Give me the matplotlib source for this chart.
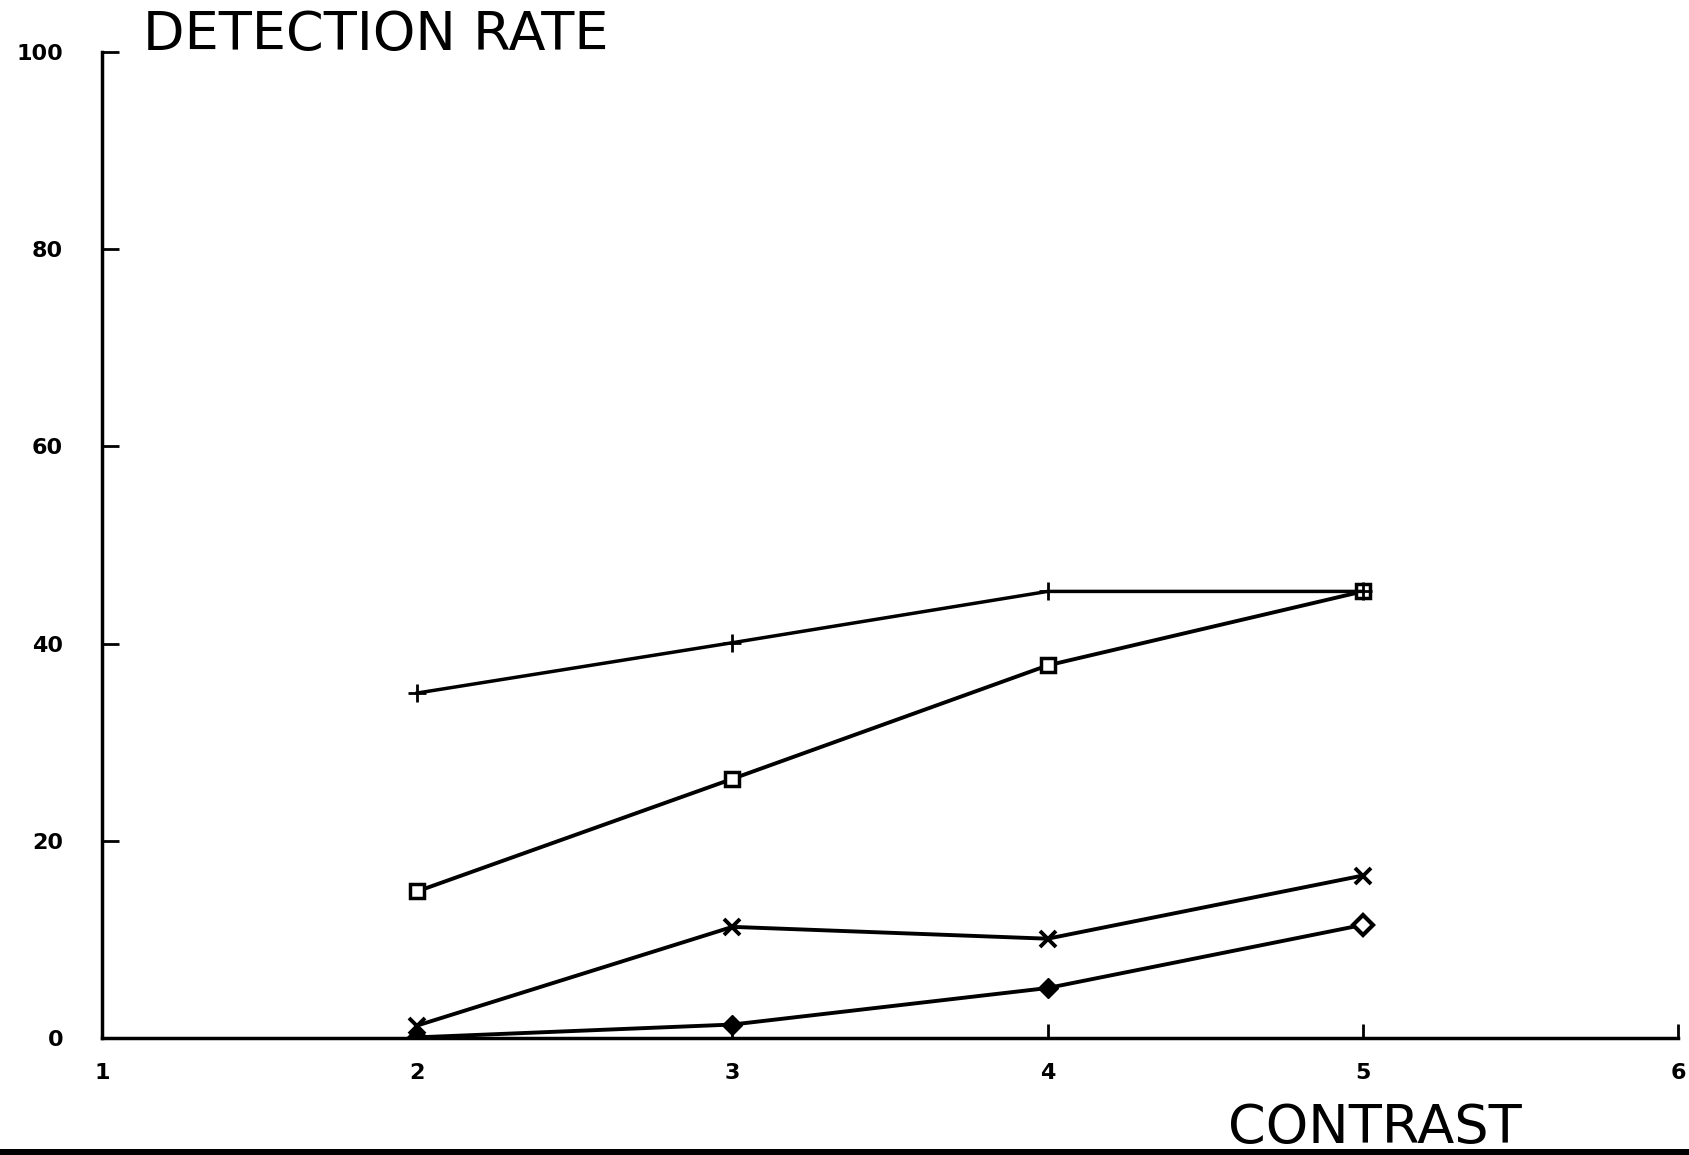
import matplotlib
matplotlib.use("Agg")
import matplotlib.pyplot as plt
from matplotlib.patches import Rectangle

# detection rate (%) against contrast level, four detector runs
contrast = [2, 3, 4, 5]
rate_plus = [35.0, 40.1, 45.3, 45.3]
rate_square = [14.9, 26.3, 37.8, 45.3]
rate_cross = [1.3, 11.3, 10.1, 16.5]
rate_diamond = [0.1, 1.4, 5.1, 11.5]

x_ticks = [1, 2, 3, 4, 5, 6]
y_ticks = [0, 20, 40, 60, 80, 100]

line_width = 2.8
title_size = 39
tick_size = 16

fig = plt.figure(figsize=(16.89, 11.55), dpi=100)
ax = fig.add_axes([0.0604, 0.1010, 0.9331, 0.8542])

ax.plot(contrast, rate_square, color="black", linewidth=line_width,
        marker="s", markersize=10, markerfacecolor="white", markeredgewidth=2.5)
ax.plot(contrast, rate_cross, color="black", linewidth=line_width,
        marker="x", markersize=12, markeredgewidth=2.8)
ax.plot(contrast, rate_diamond, color="black", linewidth=line_width,
        marker="D", markersize=10, markevery=[0, 1, 2])
ax.plot(contrast[-1:], rate_diamond[-1:], linestyle="none", color="black",
        marker="D", markersize=10, markerfacecolor="white", markeredgewidth=3)
# plus series on top so its end marker shows through the square at x=5
ax.plot(contrast, rate_plus, color="black", linewidth=line_width - 0.3,
        marker="+", markersize=13, markeredgewidth=2, zorder=3)

ax.set_xlim(1, 6)
ax.set_ylim(0, 100)
ax.set_xticks(x_ticks)
ax.set_yticks(y_ticks)
ax.spines["top"].set_visible(False)
ax.spines["right"].set_visible(False)
ax.spines["left"].set_linewidth(2.5)
ax.spines["bottom"].set_linewidth(2.5)
ax.tick_params(axis="x", direction="in", length=10, width=2, pad=18)
ax.tick_params(axis="y", direction="in", length=12, width=2, pad=28)
for lab in ax.get_xticklabels() + ax.get_yticklabels():
    lab.set_fontsize(tick_size)
    lab.set_fontweight("bold")

fig.text(0.0847, 0.957, "DETECTION RATE", fontsize=title_size,
         ha="left", va="baseline")
fig.text(0.727, 0.001, "CONTRAST", fontsize=title_size,
         ha="left", va="bottom")

# heavy rule along the bottom edge of the sheet
fig.patches.append(Rectangle((0, 0), 1, 0.0056, transform=fig.transFigure,
                             facecolor="black", edgecolor="none", zorder=5))

fig.savefig("out.png", dpi=100)
